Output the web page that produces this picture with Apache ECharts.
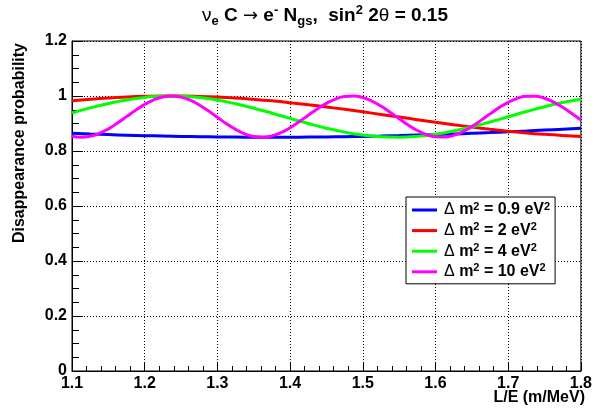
<!DOCTYPE html>
<html>
<head>
<meta charset="utf-8">
<script src="https://cdn.jsdelivr.net/npm/echarts@6/dist/echarts.min.js"></script>
<style>
html,body{margin:0;padding:0;background:#fff;}
#chart{width:595px;height:415px;}
</style>
</head>
<body>
<div id="chart"></div>
<script>
// L/E sampling (m/MeV)
const leX = [1.1,1.125,1.15,1.175,1.2,1.225,1.25,1.275,1.3,1.325,1.35,1.375,1.4,1.425,1.45,1.475,1.5,1.525,1.55,1.575,1.6,1.625,1.65,1.675,1.7,1.725,1.75,1.775,1.8];
const leXFine = [1.1,1.1125,1.125,1.1375,1.15,1.1625,1.175,1.1875,1.2,1.2125,1.225,1.2375,1.25,1.2625,1.275,1.2875,1.3,1.3125,1.325,1.3375,1.35,1.3625,1.375,1.3875,1.4,1.4125,1.425,1.4375,1.45,1.4625,1.475,1.4875,1.5,1.5125,1.525,1.5375,1.55,1.5625,1.575,1.5875,1.6,1.6125,1.625,1.6375,1.65,1.6625,1.675,1.6875,1.7,1.7125,1.725,1.7375,1.75,1.7625,1.775,1.7875,1.8];

// Δm² = 0.9 eV²
const probDm09 = [0.8643,0.8618,0.8596,0.8576,0.8559,0.8543,0.8530,0.8519,0.8511,0.8505,0.8501,0.8500,0.8501,0.8505,0.8511,0.8520,0.8531,0.8544,0.8560,0.8578,0.8598,0.8620,0.8644,0.8670,0.8699,0.8728,0.8760,0.8793,0.8828];
// Δm² = 2 eV²
const probDm2 = [0.9826,0.9882,0.9928,0.9963,0.9987,0.9999,0.9998,0.9986,0.9962,0.9926,0.9879,0.9823,0.9757,0.9683,0.9601,0.9515,0.9424,0.9330,0.9235,0.9140,0.9047,0.8957,0.8872,0.8793,0.8722,0.8658,0.8605,0.8562,0.8529];
// Δm² = 4 eV²
const probDm4 = [0.9384,0.9567,0.9726,0.9857,0.9948,0.9995,0.9993,0.9944,0.9851,0.9719,0.9557,0.9375,0.9185,0.8999,0.8830,0.8687,0.8581,0.8517,0.8501,0.8532,0.8610,0.8729,0.8881,0.9057,0.9245,0.9434,0.9610,0.9764,0.9885];
// Δm² = 10 eV² (finer sampling)
const probDm10 = [0.8542,0.8500,0.8534,0.8639,0.8805,0.9017,0.9250,0.9484,0.9695,0.9861,0.9966,1.0000,0.9959,0.9846,0.9675,0.9460,0.9225,0.8992,0.8785,0.8625,0.8527,0.8501,0.8550,0.8669,0.8847,0.9064,0.9300,0.9531,0.9734,0.9889,0.9980,0.9997,0.9941,0.9815,0.9633,0.9412,0.9175,0.8946,0.8747,0.8598,0.8515,0.8505,0.8570,0.8702,0.8890,0.9113,0.9350,0.9577,0.9771,0.9914,0.9990,0.9992,0.9919,0.9780,0.9588,0.9363,0.9126];

const seriesNames = ['dm09','dm2','dm4','dm10'];
const seriesLabels = ['0.9','2','4','10'];
const seriesColors = ['#0000ff','#ff0000','#00ff00','#ff00ff'];

const yTicks = [0,0.2,0.4,0.6,0.8,1,1.2];

const FONT = '"Liberation Sans", Arial, Helvetica, sans-serif';

const chart = echarts.init(document.getElementById('chart'), null, {renderer:'canvas'});

function pairs(xs, ys){ return xs.map((x,i)=>[x, ys[i]]); }

const dataSets = [pairs(leX, probDm09), pairs(leX, probDm2), pairs(leX, probDm4), pairs(leXFine, probDm10)];

const option = {
  backgroundColor: '#ffffff',
  animation: false,
  title: {
    left: 197,
    top: -1,
    text: '{sym|ν}{sub|e}{b| C }{arr|→}{b| e}{sup|-}{b| N}{sub|gs}{b|,  sin}{sup|2}{b| 2}{sym|θ}{b| = 0.15}',
    textStyle: {
      rich: {
        b: {fontFamily: FONT, fontWeight: 'bold', fontSize: 19, color: '#000', lineHeight: 24},
        sym: {fontFamily: FONT, fontWeight: 'normal', fontSize: 19, color: '#000', lineHeight: 24},
        arr: {fontFamily: '"DejaVu Sans", sans-serif', fontWeight: 'normal', fontSize: 18, color: '#000', lineHeight: 24},
        sub: {fontFamily: FONT, fontWeight: 'bold', fontSize: 13, color: '#000', lineHeight: 13, verticalAlign: 'bottom'},
        sup: {fontFamily: FONT, fontWeight: 'bold', fontSize: 13, color: '#000', lineHeight: 13, verticalAlign: 'top'}
      }
    }
  },
  grid: {
    left: 72, right: 10, top: 41, bottom: 44,
    show: true, borderColor: '#000', borderWidth: 1, backgroundColor: '#fff'
  },
  legend: {
    left: 406, top: 197,
    orient: 'vertical',
    backgroundColor: '#fff',
    borderColor: '#000',
    borderWidth: 1,
    padding: [4, 5, 4, 6],
    itemGap: 3.6,
    itemWidth: 25,
    itemHeight: 3,
    icon: 'rect',
    data: seriesNames,
    formatter: function(name){
      const i = seriesNames.indexOf(name);
      return '{d|Δ}{t| m}{s|2}{t| = ' + seriesLabels[i] + ' eV}{s|2}';
    },
    textStyle: {
      padding: [0,0,0,2],
      rich: {
        d: {fontFamily: FONT, fontWeight: 'normal', fontSize: 16, color: '#000', lineHeight: 18},
        t: {fontFamily: FONT, fontWeight: 'bold', fontSize: 16, color: '#000', lineHeight: 18},
        s: {fontFamily: FONT, fontWeight: 'bold', fontSize: 11, color: '#000', lineHeight: 11, verticalAlign: 'top'}
      }
    }
  },
  xAxis: {
    type: 'value',
    min: 1.1, max: 1.8, interval: 0.1,
    axisLine: {show: true, lineStyle: {color: '#000', width: 1}},
    axisTick: {show: true, inside: true, length: 9, lineStyle: {color: '#000'}},
    minorTick: {show: true, splitNumber: 5, length: 5, lineStyle: {color: '#000'}},
    splitLine: {show: true, lineStyle: {color: '#000', type: [1,2], width: 1}},
    axisLabel: {
      color: '#000', fontFamily: FONT, fontWeight: 'bold', fontSize: 16, margin: 5,
      formatter: v => v.toFixed(1)
    }
  },
  yAxis: {
    type: 'value',
    min: 0, max: 1.2, interval: 0.2,
    axisLine: {show: true, lineStyle: {color: '#000', width: 1}},
    axisTick: {show: true, inside: true, length: 11, lineStyle: {color: '#000'}},
    minorTick: {show: true, splitNumber: 4, length: 7, lineStyle: {color: '#000'}},
    splitLine: {show: true, lineStyle: {color: '#000', type: [1,2], width: 1}},
    axisLabel: {
      color: '#000', fontFamily: FONT, fontWeight: 'bold', fontSize: 16, margin: 5,
      formatter: v => {
        const r = Math.round(v*10)/10;
        return (r === 0 || r === 1) ? String(r) : r.toFixed(1);
      }
    }
  },
  graphic: [
    {
      type: 'text', x: 20, y: 43, rotation: Math.PI/2,
      style: {text: 'Disappearance probability', font: 'bold 16px ' + FONT, fill: '#000', align: 'right', verticalAlign: 'middle'}
    },
    {
      type: 'text', x: 585, y: 398,
      style: {text: 'L/E (m/MeV)', font: 'bold 16px ' + FONT, fill: '#000', align: 'right', verticalAlign: 'middle'}
    }
  ],
  series: seriesNames.map((n, i) => ({
    name: n,
    type: 'line',
    data: dataSets[i],
    smooth: true,
    showSymbol: false,
    symbol: 'none',
    clip: true,
    color: seriesColors[i],
    lineStyle: {color: seriesColors[i], width: 3}
  }))
};

chart.setOption(option);
</script>
</body>
</html>
